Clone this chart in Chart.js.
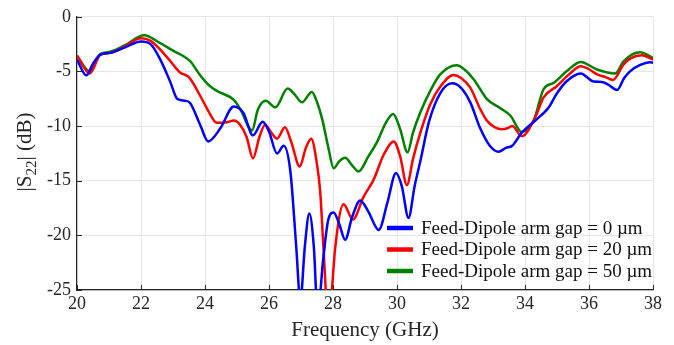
<!DOCTYPE html>
<html>
<head>
<meta charset="utf-8">
<script src="https://cdn.jsdelivr.net/npm/chart.js@4"></script>
<style>
  html, body { margin: 0; padding: 0; background: #fff; }
  #wrap { width: 674px; height: 345px; }
</style>
</head>
<body>
<div id="wrap"><canvas id="s22Chart" width="674" height="345"></canvas></div>
<script>
// S22 vs frequency
const seriesLabels = [
  "Feed-Dipole arm gap = 0 \u00b5m",
  "Feed-Dipole arm gap = 20 \u00b5m",
  "Feed-Dipole arm gap = 50 \u00b5m",
];
const seriesColors = ["#0000ff", "#ff0000", "#008000"];

const freq0 = [20.0, 20.29, 20.5, 20.73, 21.04, 21.5, 22.0, 22.3, 22.6, 22.92, 23.13, 23.38, 23.54, 23.85, 24.1, 24.48, 24.9, 25.2, 25.5, 25.8, 26.0, 26.25, 26.46, 26.67, 26.85, 26.98, 27.12, 27.26, 27.4, 27.52, 27.7, 27.85, 28.02, 28.2, 28.38, 28.6, 28.85, 29.1, 29.43, 29.7, 29.97, 30.15, 30.36, 30.55, 30.73, 31.0, 31.35, 31.72, 32.0, 32.29, 32.6, 32.9, 33.17, 33.4, 33.6, 33.9, 34.32, 34.74, 35.0, 35.3, 35.74, 36.15, 36.4, 36.6, 36.88, 37.1, 37.29, 37.6, 37.9, 38.0];
const s22_0 = [-3.92, -5.36, -4.3, -3.47, -3.3, -2.8, -2.26, -2.5, -3.9, -6.0, -7.5, -7.68, -7.9, -9.9, -11.4, -10.2, -8.2, -8.8, -10.85, -9.6, -10.5, -12.5, -11.8, -14.2, -21, -26, -21, -18.0, -21, -27, -22, -18.6, -17.9, -19, -20.4, -18.3, -16.8, -17.8, -19.5, -17, -14.3, -15.5, -18.4, -15.5, -13.2, -9.6, -7.0, -6.09, -6.5, -7.83, -10.2, -11.8, -12.35, -12.0, -11.8, -10.6, -9.5, -8.3, -7.0, -5.9, -5.18, -5.93, -5.96, -6.2, -6.69, -5.6, -4.97, -4.4, -4.16, -4.2];

const freq20 = [20.0, 20.4, 20.73, 21.04, 21.5, 22.0, 22.3, 22.6, 22.9, 23.23, 23.49, 23.9, 24.1, 24.37, 24.69, 24.9, 25.1, 25.3, 25.5, 25.7, 25.88, 26.05, 26.25, 26.5, 26.7, 26.96, 27.15, 27.32, 27.5, 27.6, 27.7, 27.85, 27.95, 28.07, 28.33, 28.62, 28.95, 29.27, 29.58, 29.9, 30.1, 30.31, 30.5, 30.73, 31.04, 31.35, 31.77, 32.0, 32.29, 32.6, 32.81, 33.05, 33.28, 33.45, 33.6, 33.9, 34.32, 34.58, 35.0, 35.4, 35.74, 36.0, 36.25, 36.5, 36.75, 37.08, 37.3, 37.65, 38.0];
const s22_20 = [-3.56, -5.18, -3.47, -3.3, -2.7, -1.96, -2.2, -3.0, -4.0, -5.12, -5.5, -7.5, -8.6, -9.7, -9.64, -9.5, -9.9, -11, -12.95, -11, -9.88, -10.5, -11.15, -10.1, -11.5, -13.7, -12, -11.15, -13.5, -16, -21, -27.5, -25.5, -21.1, -17.15, -18.55, -16.5, -14.9, -12.65, -11.4, -12.8, -15.4, -13, -10.6, -8.0, -6.4, -5.33, -5.6, -6.48, -8.44, -9.5, -10.1, -10.3, -10.2, -10.0, -10.93, -9.19, -7.38, -6.33, -5.2, -4.52, -4.8, -5.27, -5.5, -5.78, -4.37, -3.8, -3.52, -3.92];

const freq50 = [20.0, 20.4, 20.73, 21.04, 21.5, 22.1, 22.6, 23.0, 23.33, 23.54, 23.86, 24.1, 24.37, 24.9, 25.1, 25.47, 25.65, 25.9, 26.2, 26.58, 26.8, 27.03, 27.34, 27.5, 27.66, 27.86, 28.02, 28.2, 28.38, 28.6, 28.8, 29.1, 29.38, 29.65, 29.88, 30.1, 30.33, 30.5, 30.73, 31.04, 31.35, 31.87, 32.1, 32.4, 32.81, 33.23, 33.54, 33.9, 34.27, 34.58, 34.9, 35.31, 35.74, 36.25, 36.82, 37.08, 37.6, 38.0];
const s22_50 = [-3.56, -5.0, -3.4, -3.2, -2.6, -1.69, -2.41, -3.1, -3.61, -4.07, -5.4, -6.2, -6.78, -7.6, -8.43, -10.4, -8.5, -7.68, -8.28, -6.57, -7.1, -7.83, -6.87, -7.8, -9.34, -12.05, -13.86, -13.2, -12.9, -13.6, -14.16, -12.8, -11.45, -9.7, -8.89, -10.3, -12.4, -10.6, -8.74, -6.78, -5.27, -4.43, -4.8, -5.73, -7.53, -8.37, -9.03, -10.54, -9.49, -6.63, -6.03, -4.97, -4.13, -4.82, -5.18, -4.07, -3.25, -3.77];

const xTicks = [20, 22, 24, 26, 28, 30, 32, 34, 36, 38];
const yTicks = [-25, -20, -15, -10, -5, 0];

const serif = "'Liberation Serif', 'Times New Roman', serif";
const ink = "#262626";

const toPoints = (xs, ys) => xs.map((x, i) => ({ x: x, y: ys[i] }));

const makeSet = (i, xs, ys) => ({
  label: seriesLabels[i],
  data: toPoints(xs, ys),
  borderColor: seriesColors[i],
  backgroundColor: seriesColors[i],
  borderWidth: 2.5,
  pointRadius: 0,
  cubicInterpolationMode: "monotone",
  clip: 0,
});

// y title with the subscript, inward tick marks and the inside legend
const extras = {
  id: "extras",
  afterDraw(chart) {
    const ctx = chart.ctx;
    const area = chart.chartArea;
    const xs = chart.scales.x;
    const ys = chart.scales.y;

    ctx.save();
    ctx.strokeStyle = ink;
    ctx.lineWidth = 1;
    xTicks.forEach((t) => {
      const px = Math.round(xs.getPixelForValue(t)) + 0.5;
      ctx.beginPath();
      ctx.moveTo(px, area.bottom);
      ctx.lineTo(px, area.bottom - 5);
      ctx.stroke();
    });
    yTicks.forEach((t) => {
      const py = Math.round(ys.getPixelForValue(t)) + 0.5;
      ctx.beginPath();
      ctx.moveTo(area.left, py);
      ctx.lineTo(area.left + 5, py);
      ctx.stroke();
    });
    ctx.restore();

    // |S22| (dB)
    ctx.save();
    ctx.fillStyle = ink;
    ctx.textBaseline = "alphabetic";
    const big = "21px " + serif;
    const small = "15px " + serif;
    const parts = [
      { t: "|S", f: big, dy: 0 },
      { t: "22", f: small, dy: 5 },
      { t: "| (dB)", f: big, dy: 0 },
    ];
    let total = 0;
    parts.forEach((p) => {
      ctx.font = p.f;
      p.w = ctx.measureText(p.t).width;
      total += p.w;
    });
    ctx.translate(31, 152 + total / 2);
    ctx.rotate(-Math.PI / 2);
    let cx = 0;
    parts.forEach((p) => {
      ctx.font = p.f;
      ctx.fillText(p.t, cx, p.dy);
      cx += p.w;
    });
    ctx.restore();

    // legend
    ctx.save();
    ctx.font = "19px " + serif;
    ctx.textBaseline = "middle";
    ctx.fillStyle = "#111";
    chart.data.datasets.forEach((ds, i) => {
      const y = 228 + i * 21.5;
      ctx.strokeStyle = ds.borderColor;
      ctx.lineWidth = 4.5;
      ctx.beginPath();
      ctx.moveTo(387, y);
      ctx.lineTo(413, y);
      ctx.stroke();
      ctx.fillText(ds.label, 421, y + 1);
    });
    ctx.restore();
  },
};

const chart = new Chart(document.querySelector("#s22Chart"), {
  type: "line",
  data: {
    datasets: [
      makeSet(0, freq0, s22_0),
      makeSet(1, freq20, s22_20),
      makeSet(2, freq50, s22_50),
    ],
  },
  options: {
    responsive: false,
    animation: false,
    layout: { padding: { left: 0, right: 21, top: 13, bottom: 0 } },
    plugins: { legend: { display: false }, tooltip: { enabled: false } },
    scales: {
      x: {
        type: "linear",
        min: 20,
        max: 38,
        afterFit: (s) => { s.height = 55; },
        afterBuildTicks: (s) => { s.ticks = xTicks.map((v) => ({ value: v })); },
        ticks: { color: ink, font: { family: serif, size: 18 }, padding: 3, maxRotation: 0 },
        grid: { color: "#e6e6e6", drawTicks: false },
        border: { color: ink, width: 1.2 },
        title: {
          display: true,
          text: "Frequency (GHz)",
          color: ink,
          font: { family: serif, size: 21 },
          padding: { top: 0, bottom: 2 },
        },
      },
      y: {
        min: -25,
        max: 0,
        afterFit: (s) => { s.width = 77; },
        afterBuildTicks: (s) => { s.ticks = yTicks.map((v) => ({ value: v })); },
        ticks: { color: ink, font: { family: serif, size: 18 }, padding: 6 },
        grid: { color: "#e6e6e6", drawTicks: false },
        border: { color: ink, width: 1.2 },
      },
    },
  },
  plugins: [extras],
});
</script>
</body>
</html>
